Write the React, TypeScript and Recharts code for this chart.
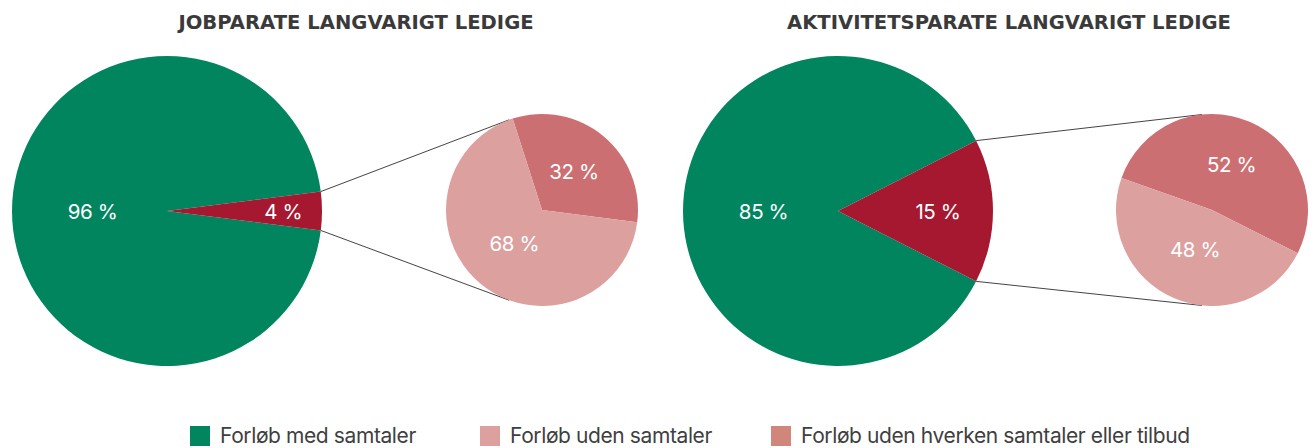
import React from "react"
import { PieChart, Pie, Cell, Legend, Customized } from "recharts"

// jobparate (left) and aktivitetsparate (right)
const jobMain = [
	{ name: "Forløb med samtaler", value: 96 },
	{ name: "Forløb uden samtaler", value: 4 },
]
const jobSplit = [
	{ name: "Forløb uden hverken samtaler eller tilbud", value: 32 },
	{ name: "Forløb uden samtaler", value: 68 },
]
const aktMain = [
	{ name: "Forløb med samtaler", value: 85 },
	{ name: "Forløb uden samtaler", value: 15 },
]
const aktSplit = [
	{ name: "Forløb uden hverken samtaler eller tilbud", value: 52 },
	{ name: "Forløb uden samtaler", value: 48 },
]
const titles = ["JOBPARATE LANGVARIGT LEDIGE", "AKTIVITETSPARATE LANGVARIGT LEDIGE"]
const legendItems = [
	{ label: "Forløb med samtaler", color: "#00855f" },
	{ label: "Forløb uden samtaler", color: "#dca09f" },
	{ label: "Forløb uden hverken samtaler eller tilbud", color: "#d0867a" },
]

const mainColors = ["#00855f", "#a51830"]
const splitColors = ["#cc6f73", "#dca09f"]
const FONT = "Inter, 'Liberation Sans', sans-serif"
const TITLE_FONT = "'DejaVu Sans', Inter, sans-serif"
const RAD = Math.PI / 180
const BIG_R = 155
const SMALL_R = 96

const groups = [
	{ title: titles[0], titleX: 356, main: jobMain, split: jobSplit, bx: 167, sx: 542, splitStart: -7.4, hook: 110, ratios: [0.48, 0.75] },
	{ title: titles[1], titleX: 1009, main: aktMain, split: aktSplit, bx: 838, sx: 1212, splitStart: -26.7, hook: 96, ratios: [0.48, 0.645] },
]
const CY = 211
const SCY = 210

const makeLabel = (ratios: number[]) => (p: any) => {
	const r = p.outerRadius * ratios[p.index]
	const x = p.cx + r * Math.cos(-p.midAngle * RAD)
	const y = p.cy + r * Math.sin(-p.midAngle * RAD)
	const v = p.value ?? p.payload?.value
	return (
		<text x={x} y={y} fill='#fff' textAnchor='middle' dominantBaseline='central' fontSize={20.5} fontFamily={FONT} letterSpacing={-0.4}>
			{`${v} %`}
		</text>
	)
}

const Decor = () => (
	<g>
		{groups.map((g) => {
			const half = (g.main[1].value * 3.6) / 2
			const ex = g.bx + BIG_R * Math.cos(half * RAD)
			const ey1 = CY - BIG_R * Math.sin(half * RAD)
			const ey2 = CY + BIG_R * Math.sin(half * RAD)
			const hx = g.sx + SMALL_R * Math.cos(g.hook * RAD)
			const hy1 = SCY - SMALL_R * Math.sin(g.hook * RAD)
			const hy2 = SCY + SMALL_R * Math.sin(g.hook * RAD)
			return (
				<g key={g.title}>
					<text x={g.titleX} y={29} textAnchor='middle' fontSize={19.6} fontWeight={700} fill='#3a3a3a' fontFamily={TITLE_FONT}>
						{g.title}
					</text>
					<line x1={ex} y1={ey1} x2={hx} y2={hy1} stroke='#444' strokeWidth={1} />
					<line x1={ex} y1={ey2} x2={hx} y2={hy2} stroke='#444' strokeWidth={1} />
				</g>
			)
		})}
	</g>
)

const LegendBox = () => (
	<div style={{ display: "flex", paddingLeft: 190, fontFamily: FONT, fontSize: 21, color: "#3f3f3f" }}>
		{legendItems.map((it, i) => (
			<div key={it.label} style={{ display: "flex", alignItems: "center", width: [290, 291, 500][i] }}>
				<span style={{ width: 20, height: 20, background: it.color, marginRight: 10, display: "inline-block", flexShrink: 0 }} />
				<span style={{ letterSpacing: -0.4, whiteSpace: "nowrap" }}>{it.label}</span>
			</div>
		))}
	</div>
)

const App = () => {
	return (
		<div style={{ position: "absolute", left: 0, top: 0, width: 1315, height: 448, background: "#fff", overflow: "hidden" }}>
			<PieChart width={1315} height={448} margin={{ top: 0, right: 0, bottom: 0, left: 0 }}>
				{groups.map((g) => {
					const half = (g.main[1].value * 3.6) / 2
					return (
						<Pie
							key={g.title + "main"}
							data={g.main}
							dataKey='value'
							cx={g.bx}
							cy={CY}
							outerRadius={BIG_R}
							startAngle={half}
							endAngle={half + 360}
							stroke='none'
							label={makeLabel(g.ratios)}
							labelLine={false}
							isAnimationActive={false}>
							{g.main.map((d, i) => (
								<Cell key={i} fill={mainColors[i]} />
							))}
						</Pie>
					)
				})}
				{groups.map((g) => (
					<Pie
						key={g.title + "split"}
						data={g.split}
						dataKey='value'
						cx={g.sx}
						cy={SCY}
						outerRadius={SMALL_R}
						startAngle={g.splitStart}
						endAngle={g.splitStart + 360}
						stroke='none'
						label={makeLabel([0.52, 0.45])}
						labelLine={false}
						isAnimationActive={false}>
						{g.split.map((d, i) => (
							<Cell key={i} fill={splitColors[i]} />
						))}
					</Pie>
				))}
				<Customized component={Decor} />
				<Legend content={() => <LegendBox />} wrapperStyle={{ left: 0, top: 423, bottom: "auto", width: 1315 }} />
			</PieChart>
		</div>
	)
}

export default App
